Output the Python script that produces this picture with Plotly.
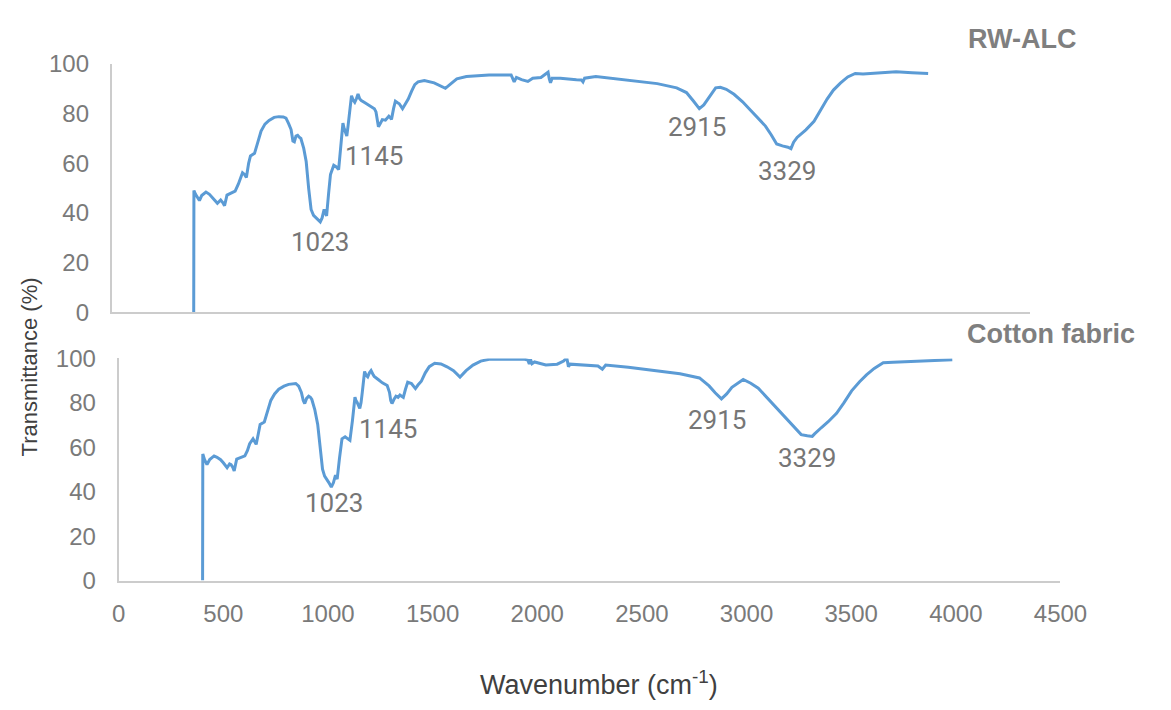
import plotly.graph_objects as go

# ---------------- data ----------------
rw_wn = [401, 402, 410, 420, 429, 440, 461, 478, 493, 505, 517, 533, 545, 552, 564, 585, 604, 620, 632, 640,
         650, 659, 670, 679, 699, 715, 731, 750, 770, 795, 818, 840, 853, 866, 878, 887, 894, 902, 910, 918,
         926, 940, 952, 964, 976, 988, 1000, 1010, 1021, 1030, 1040, 1046, 1052, 1062, 1071, 1087, 1100, 1111,
         1122, 1132, 1138, 1143, 1151, 1157, 1163, 1174, 1182, 1190, 1198, 1206, 1214, 1222, 1238, 1254, 1270,
         1286, 1294, 1300, 1306, 1315, 1325, 1340, 1357, 1363, 1370, 1380, 1389, 1398, 1408, 1424, 1440, 1452,
         1468, 1484, 1500, 1531, 1579, 1610, 1634, 1660, 1690, 1737, 1848, 1956, 1965, 1971, 1982, 2007, 2038,
         2062, 2102, 2126, 2137, 2143, 2149, 2157, 2197, 2276, 2300, 2308, 2316, 2371, 2482, 2609, 2672, 2767,
         2815, 2850, 2878, 2900, 2920, 2958, 2981, 3010, 3048, 3090, 3129,
         3170, 3202, 3230, 3257, 3285, 3312, 3327, 3340, 3357, 3400, 3440, 3470, 3504, 3535, 3569, 3605, 3642,
         3680, 3715, 3780, 3842, 3920, 3999]
rw_t = [0, 49, 47.5, 46, 45, 47, 48.4, 47.5, 45.9, 45, 43.9, 45.2, 44, 42.9, 47.2, 48, 48.8, 51.7, 55, 56.2,
        55.5, 54.3, 60, 63, 64, 69, 73, 75.8, 77.3, 78.5, 78.8, 78.7, 78.2, 76, 73.6, 69, 68.7, 71, 71.3, 70.5,
        70, 66, 60.7, 50, 41.4, 39, 38.1, 37.5, 36.4, 38, 41.4, 40, 38.8, 48, 55.5, 59.2, 58.5, 57.5,
        68, 76.2, 74, 72.9, 71, 75, 78.8, 87.2, 85.5, 84.6, 86, 87.9, 86, 85.3, 84.5, 83.7, 83,
        82, 80.7, 77, 74.7, 76, 77.6, 77.4, 79, 78.5, 77.7, 82, 85, 84.5, 84, 82, 84, 85.9,
        89, 91.7, 92.8, 93.3, 92.4, 91.2, 90.2, 92, 94, 95, 95.6, 95.6, 94, 92.8, 94.6, 93.7, 93,
        94.3, 94.6, 95.9, 96.7, 94, 92.4, 94.3, 94.3, 93.7, 93.6, 92.8, 94.3, 95, 94, 92.8, 92.1, 90.4,
        88.5, 85, 82, 83.5, 86, 90.4, 90.6, 89.8, 87.8, 84.8, 81.4,
        78, 75, 71.5, 67.8, 67, 66.5, 65.9, 68.5, 70.4, 73.5, 76.9, 81, 85.9, 89.5, 92.3, 94.8, 96.2,
        96, 96.2, 96.5, 96.9, 96.5, 96.2]

cot_wn = [401, 402, 410, 422, 435, 456, 470, 487, 500, 518, 530, 537, 545, 552, 564, 585, 603, 615, 626, 642,
          650, 657, 667, 676, 696, 710, 727, 745, 765, 790, 812, 846, 860, 873, 882, 889, 898, 908, 916, 923,
          937, 951, 962, 974, 984, 994, 1005, 1016, 1026, 1036, 1040, 1044, 1055, 1067, 1082, 1095, 1105,
          1117, 1129, 1134, 1139, 1152, 1158, 1164, 1175, 1182, 1190, 1198, 1206, 1214, 1221, 1240, 1260,
          1283, 1294, 1300, 1306, 1315, 1325, 1335, 1344, 1352, 1360, 1370, 1381, 1399, 1410, 1418, 1430,
          1446, 1465, 1484, 1510, 1540, 1569, 1600, 1631, 1660, 1693, 1730, 1770, 1940, 1955, 1962, 1968,
          1975, 1987, 2041, 2095, 2126, 2141, 2149, 2157, 2234, 2290, 2311, 2327, 2435, 2590, 2682, 2775,
          2821, 2850, 2880, 2905, 2930, 2984,
          3020, 3056, 3100, 3145, 3180, 3217, 3240, 3261, 3290, 3314, 3325, 3340, 3358, 3390, 3430,
          3465, 3502, 3540, 3573, 3610, 3653, 3700, 3805, 3900, 3983]
cot_t = [0, 57, 54.5, 52.2, 54.5, 56.1, 55.5, 54.4, 53, 50.8, 52.5, 52.2, 51, 49.4, 54.7, 55.5, 56.1, 58.5, 61.6, 63.8,
         62.5, 61.3, 66, 70.3, 71.4, 76, 81.1, 84, 86.1, 87.5, 88.3, 88.7, 87.5, 84.7, 81, 79.7, 82, 83, 82.5, 81.5,
         77, 70.3, 60, 50.1, 47, 45.7, 44, 42.1, 44, 47.5, 46.5, 45.7, 55, 63.8, 64.7, 64, 63.1,
         72, 82.5, 81, 80.3, 77.5, 80, 84.7, 94.1, 92.5, 91.7, 93.5, 94.5, 93, 91.9, 90.5, 89,
         87.8, 84.7, 81, 79.7, 81.5, 83, 82.5, 83.5, 83, 82.5, 86, 89.3, 88.7, 87.5, 86.4, 88,
         89.7, 93.5, 96.3, 97.8, 97.5, 96.2, 94.5, 91.6, 94.5, 97, 98.8, 99.6, 99.6, 99.2, 97.5, 99.5,
         97.6, 98.4, 97, 97.4, 98.8, 100.3, 96.2, 97.4, 97, 96.6, 95.1, 97, 96, 94.1, 93.1, 91.2,
         87.6, 84.5, 81.8, 84, 87, 90.5,
         88.8, 86.6, 82.2, 77.5, 74, 70.3, 68, 65.7, 65.2, 64.9, 66, 67.5, 68.9, 71.5, 75.3,
         80, 85.4, 89.5, 92.6, 95.5, 98, 98.3, 98.7, 99, 99.4]

peak_labels = ["1023", "1145", "2915", "3329"]
rw_label_x = [1018, 1284, 2867, 3310]
rw_label_y = [28.3, 62.8, 74.8, 57]
cot_label_x = [1030, 1285, 2857, 3288]
cot_label_y = [35, 68, 72.3, 55]

sample_names = ["RW-ALC", "Cotton fabric"]
x_ticks = [0, 500, 1000, 1500, 2000, 2500, 3000, 3500, 4000, 4500]
y_ticks = [0, 20, 40, 60, 80, 100]

W, H = 1171, 710
LINE = "#5b9bd5"
AXIS = "#cccccc"
TICK = "#7a7a7a"

fig = go.Figure()
fig.add_trace(go.Scatter(x=rw_wn, y=rw_t, mode="lines", line=dict(color=LINE, width=3),
                         xaxis="x", yaxis="y", showlegend=False, hoverinfo="skip"))
fig.add_trace(go.Scatter(x=cot_wn, y=cot_t, mode="lines", line=dict(color=LINE, width=3),
                         xaxis="x2", yaxis="y2", showlegend=False, hoverinfo="skip"))

tickfont = dict(family="Liberation Sans, Arial, sans-serif", size=24, color=TICK)
common_y = dict(range=[0, 100], tickvals=y_ticks, showgrid=False, zeroline=False, showline=True,
                linecolor=AXIS, linewidth=2, ticks="outside", ticklen=16, tickcolor="rgba(0,0,0,0)",
                tickfont=tickfont, fixedrange=True)
common_x = dict(range=[0, 4500], tickvals=x_ticks, showgrid=False, zeroline=False, showline=True,
                linecolor=AXIS, linewidth=2, ticks="outside", ticklen=11, tickcolor="rgba(0,0,0,0)",
                tickfont=tickfont, fixedrange=True)

fig.update_layout(
    width=W, height=H,
    margin=dict(l=0, r=0, t=0, b=0),
    paper_bgcolor="white", plot_bgcolor="white",
    xaxis=dict(common_x, domain=[108 / W, 1054 / W], anchor="y", showticklabels=False, ticks=""),
    yaxis=dict(common_y, domain=[1 - 310 / H, 1 - 52 / H], anchor="x"),
    xaxis2=dict(common_x, domain=[115 / W, 1085 / W], anchor="y2"),
    yaxis2=dict(common_y, domain=[1 - 589 / H, 1 - 358 / H], anchor="x2"),
)

annfont = dict(family="Roboto, sans-serif", size=26, color="#767676")
for lab, xv, yv in zip(peak_labels, rw_label_x, rw_label_y):
    fig.add_annotation(x=xv, y=yv, xref="x", yref="y", text=lab, showarrow=False, font=annfont,
                       xanchor="center", yanchor="middle")
for lab, xv, yv in zip(peak_labels, cot_label_x, cot_label_y):
    fig.add_annotation(x=xv, y=yv, xref="x2", yref="y2", text=lab, showarrow=False, font=annfont,
                       xanchor="center", yanchor="middle")

namefont = dict(family="Liberation Sans, Arial, sans-serif", size=27, color="#7f7f7f")
fig.add_annotation(x=988 / W, y=1 - 26 / H, xref="paper", yref="paper", xanchor="left", yanchor="middle",
                   text="<b>" + sample_names[0] + "</b>", showarrow=False, font=namefont)
fig.add_annotation(x=987 / W, y=1 - 333 / H, xref="paper", yref="paper", xanchor="left", yanchor="middle",
                   text="<b>" + sample_names[1] + "</b>", showarrow=False, font=namefont)

fig.add_annotation(x=23 / W, y=1 - 367 / H, xref="paper", yref="paper", textangle=-90,
                   xanchor="center", yanchor="middle",
                   text="Transmittance (%)", showarrow=False,
                   font=dict(family="Liberation Sans, Arial, sans-serif", size=22, color="#404040"))
fig.add_annotation(x=610 / W, y=1 - 695 / H, xref="paper", yref="paper",
                   xanchor="center", yanchor="middle",
                   text="Wavenumber (cm<sup>-1</sup>)", showarrow=False,
                   font=dict(family="Liberation Sans, Arial, sans-serif", size=27, color="#404040"))

fig.write_html("out.html")
